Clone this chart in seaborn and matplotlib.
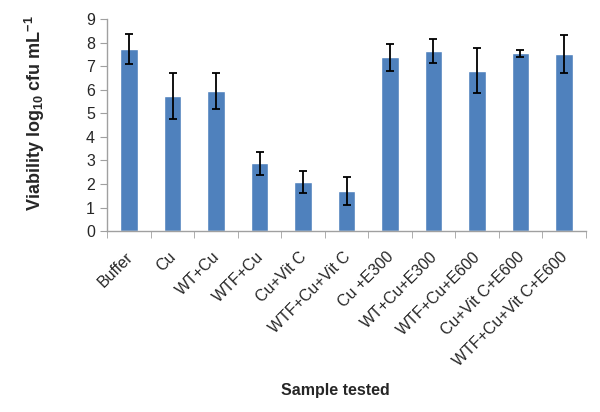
import numpy as np
import pandas as pd
import matplotlib
matplotlib.use("Agg")
import matplotlib.pyplot as plt
import matplotlib.transforms as mtransforms
from matplotlib.ticker import FixedLocator, NullFormatter
import seaborn as sns

samples = ["Buffer", "Cu", "WT+Cu", "WTF+Cu", "Cu+Vit C", "WTF+Cu+Vit C",
           "Cu +E300", "WT+Cu+E300", "WTF+Cu+E600", "Cu+Vit C+E600",
           "WTF+Cu+Vit C+E600"]
viability = [7.73, 5.73, 5.93, 2.87, 2.09, 1.70, 7.37, 7.65, 6.80, 7.55, 7.51]
error = [0.62, 0.96, 0.76, 0.49, 0.46, 0.59, 0.57, 0.51, 0.96, 0.15, 0.80]

sns.set_style("white")
plt.rcParams['font.family'] = ['Liberation Sans', 'DejaVu Sans']
plt.rcParams['mathtext.fontset'] = 'custom'
plt.rcParams['mathtext.rm'] = 'Liberation Sans'
plt.rcParams['mathtext.bf'] = 'Liberation Sans:bold'

df = pd.DataFrame({"sample": samples, "viability": viability, "err": error})

fig = plt.figure(figsize=(6, 4.12), dpi=100)
ax = fig.add_axes([0.179, 0.439, 0.797, 0.515])

sns.barplot(data=df, x="sample", y="viability", color="#4F81BD",
            saturation=1, width=0.4, errorbar=None, ax=ax)
ax.errorbar(np.arange(len(samples)), viability, yerr=error, fmt="none",
            ecolor="black", elinewidth=1.3, capsize=3, capthick=1.3)

ax.set_ylim(0, 9)
ax.set_xlim(-0.5, len(samples) - 0.5)
ax.set_yticks(range(0, 10))
ax.tick_params(axis="y", direction="out", length=5, color="#A0A0A0",
               labelsize=11.5, left=True, pad=4)
ax.tick_params(axis="x", which="major", length=0, labelsize=11.5, pad=13)
ax.xaxis.set_minor_locator(FixedLocator(np.arange(-0.5, len(samples), 1)))
ax.xaxis.set_minor_formatter(NullFormatter())
ax.tick_params(axis="x", which="minor", direction="out", length=5,
               color="#A0A0A0", bottom=True)
shift = mtransforms.ScaledTranslation(-4 / 100, 0, fig.dpi_scale_trans)
for lbl in ax.get_xticklabels():
    lbl.set_rotation(45)
    lbl.set_ha("right")
    lbl.set_rotation_mode("anchor")
    lbl.set_transform(lbl.get_transform() + shift)

for side in ["top", "right"]:
    ax.spines[side].set_visible(False)
for side in ["left", "bottom"]:
    ax.spines[side].set_color("#A0A0A0")
    ax.spines[side].set_linewidth(1)

ax.set_xlabel("Sample tested", fontsize=11.5, fontweight="bold")
ax.set_ylabel(r"Viability log$_{\mathbf{10}}$ cfu mL$^{\mathbf{-1}}$",
              fontsize=13, fontweight="bold")
# label positions in axes fractions
ax.xaxis.set_label_coords((335 - 107) / 478, -(390 - 231) / 212, transform=ax.transAxes)
ax.yaxis.set_label_coords(-(107 - 35) / 478, (231 - 113) / 212, transform=ax.transAxes)
ax.xaxis.label.set_va("center")
ax.yaxis.label.set_va("center")

fig.savefig("out.png", dpi=100)
